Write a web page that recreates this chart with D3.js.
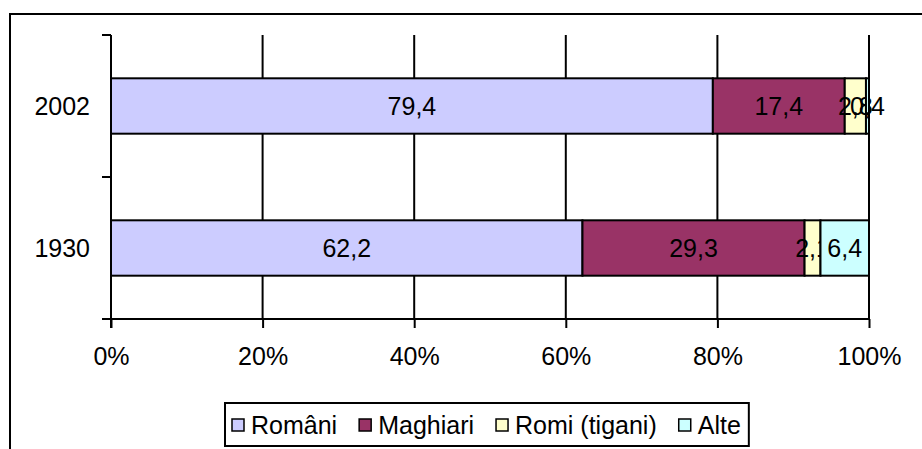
<!DOCTYPE html>
<html>
<head>
<meta charset="utf-8">
<script src="https://cdn.jsdelivr.net/npm/d3@7"></script>
<style>
  body { margin: 0; background: #fff; }
  text { font-family: "Liberation Sans", Arial, sans-serif; fill: #000; }
</style>
</head>
<body>
<div id="chart"></div>
<script>
// data
var years = ["2002", "1930"];
var groups = ["Români", "Maghiari", "Romi (tigani)", "Alte"];
var romani = [79.4, 62.2];
var maghiari = [17.4, 29.3];
var romi = [2.8, 2.1];
var alte = [0.4, 6.4];
var xTicks = [0, 20, 40, 60, 80, 100];
var colors = ["#ccccff", "#993366", "#ffffcc", "#ccffff"];

var svgWidth = 922;
var svgHeight = 449;
var fontSize = "25px";

var plot = { left: 111, right: 869, top: 35, bottom: 319 };

var svg = d3.select("#chart")
    .append("svg")
    .attr("width", svgWidth)
    .attr("height", svgHeight);

// outer frame (runs off the right and bottom of the picture)
svg.append("rect")
    .attr("x", 10)
    .attr("y", 14)
    .attr("width", 940)
    .attr("height", 460)
    .attr("fill", "none")
    .attr("stroke", "#000")
    .attr("stroke-width", 2);

// table of rows for stacking
var rows = years.map(function(y, i) {
    return { year: y, "Români": romani[i], "Maghiari": maghiari[i], "Romi (tigani)": romi[i], "Alte": alte[i] };
});
var stacked = d3.stack().keys(groups)(rows);

var xScale = d3.scaleLinear()
    .domain([0, 100])
    .range([plot.left, plot.right]);

var yScale = d3.scaleBand()
    .domain(years)
    .range([plot.top, plot.bottom]);

var barH = yScale.bandwidth() * 0.39;

// vertical gridlines
svg.append("g")
    .selectAll("line")
    .data(xTicks.slice(1))
    .enter()
    .append("line")
    .attr("x1", d => xScale(d))
    .attr("x2", d => xScale(d))
    .attr("y1", plot.top)
    .attr("y2", plot.bottom)
    .attr("stroke", "#000")
    .attr("stroke-width", 2);

// bars
var layers = svg.append("g")
    .selectAll("g")
    .data(stacked)
    .enter()
    .append("g")
    .attr("fill", (d, i) => colors[i]);

layers.selectAll("rect")
    .data(d => d)
    .enter()
    .append("rect")
    .attr("x", d => xScale(d[0]))
    .attr("width", d => xScale(d[1]) - xScale(d[0]))
    .attr("y", d => yScale(d.data.year) + (yScale.bandwidth() - barH) / 2)
    .attr("height", barH)
    .attr("stroke", "#000")
    .attr("stroke-width", 2);

// value labels
layers.selectAll("text")
    .data(d => d.map(p => ({ p: p, v: p[1] - p[0] })))
    .enter()
    .append("text")
    .attr("x", d => xScale((d.p[0] + d.p[1]) / 2))
    .attr("y", d => yScale(d.p.data.year) + yScale.bandwidth() / 2)
    .attr("dy", "0.36em")
    .attr("text-anchor", "middle")
    .style("font-size", fontSize)
    .text(d => d3.format(".1f")(d.v).replace(".", ","));

// axes
var bottomAxis = d3.axisBottom(xScale)
    .tickValues(xTicks)
    .tickFormat(d => d + "%")
    .tickSize(9)
    .tickPadding(19);

var xAxis = svg.append("g")
    .attr("transform", `translate(0, ${plot.bottom})`)
    .call(bottomAxis);

xAxis.select(".domain").remove();
xAxis.selectAll("line").attr("stroke", "#000").attr("stroke-width", 2);
xAxis.selectAll("text")
    .style("font-size", fontSize)
    .attr("font-family", null);

svg.append("line")
    .attr("x1", plot.left - 9)
    .attr("x2", plot.right)
    .attr("y1", plot.bottom)
    .attr("y2", plot.bottom)
    .attr("stroke", "#000")
    .attr("stroke-width", 2);

// y axis: ticks on category boundaries, labels in the middle
svg.append("line")
    .attr("x1", plot.left)
    .attr("x2", plot.left)
    .attr("y1", plot.top)
    .attr("y2", plot.bottom + 9)
    .attr("stroke", "#000")
    .attr("stroke-width", 2);

svg.append("g")
    .selectAll("line")
    .data(years)
    .enter()
    .append("line")
    .attr("x1", plot.left - 9)
    .attr("x2", plot.left)
    .attr("y1", d => yScale(d))
    .attr("y2", d => yScale(d))
    .attr("stroke", "#000")
    .attr("stroke-width", 2);

svg.append("g")
    .selectAll("text")
    .data(years)
    .enter()
    .append("text")
    .attr("x", plot.left - 21)
    .attr("y", d => yScale(d) + yScale.bandwidth() / 2)
    .attr("dy", "0.36em")
    .attr("text-anchor", "end")
    .style("font-size", fontSize)
    .text(d => d);

// legend
var legend = svg.append("g");
var lx = 232, ly = 425;
var items = legend.selectAll("g")
    .data(groups)
    .enter()
    .append("g");

items.append("rect")
    .attr("width", 12)
    .attr("height", 12)
    .attr("y", ly - 6)
    .attr("fill", (d, i) => colors[i])
    .attr("stroke", "#000")
    .attr("stroke-width", 1.5);

items.append("text")
    .attr("x", 19)
    .attr("y", ly)
    .attr("dy", "0.36em")
    .style("font-size", fontSize)
    .text(d => d);

items.each(function() {
    var g = d3.select(this);
    g.attr("transform", `translate(${lx}, 0)`);
    lx += 19 + g.select("text").node().getComputedTextLength() + 22;
});

legend.insert("rect", ":first-child")
    .attr("x", 225)
    .attr("y", 403)
    .attr("width", lx - 22 + 8 - 225)
    .attr("height", 43)
    .attr("fill", "#fff")
    .attr("stroke", "#000")
    .attr("stroke-width", 2);
</script>
</body>
</html>
